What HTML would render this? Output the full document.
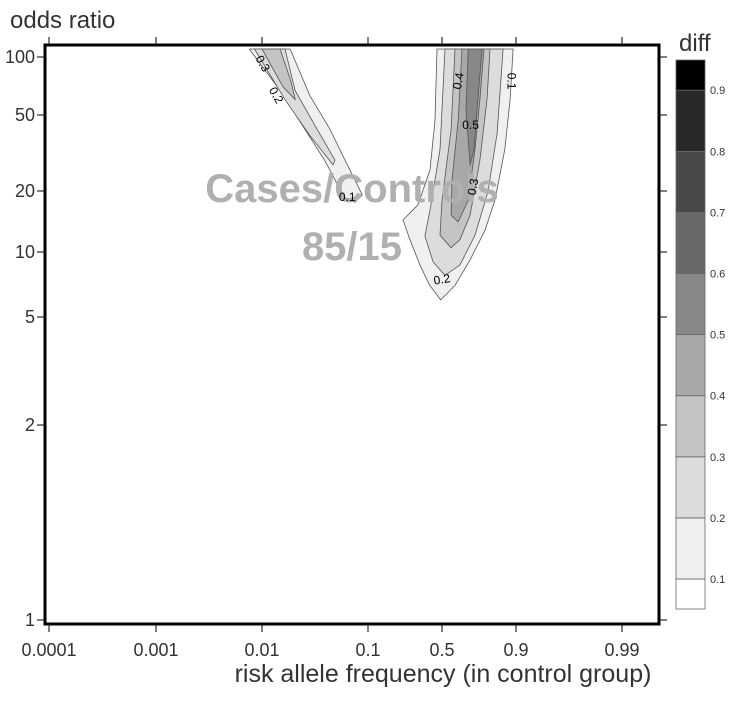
<!DOCTYPE html>
<html><head><meta charset="utf-8"><style>
body{margin:0;background:#fff;font-family:"Liberation Sans",sans-serif}
</style></head><body>
<svg id="chart" width="750" height="700" xmlns="http://www.w3.org/2000/svg" font-family="Liberation Sans, sans-serif">
<g id="contours"></g>
<text x="352" y="202" text-anchor="middle" font-size="40" font-weight="bold" fill="#b0b0b0">Cases/Controls</text>
<text x="352" y="260" text-anchor="middle" font-size="40" font-weight="bold" fill="#b0b0b0">85/15</text>
<g id="clabels" font-size="12" fill="#000"></g>
<rect x="45" y="45" width="614" height="579" fill="none" stroke="#000" stroke-width="3"/>
<g id="axes"></g>
<text x="10" y="28" font-size="24" fill="#333">odds ratio</text>
<text x="443" y="682" text-anchor="middle" font-size="25" fill="#333">risk allele frequency (in control group)</text>
<text x="679" y="51" font-size="24" fill="#333">diff</text>
<g id="cbar"></g>
</svg>
<script>
const xTicks=[0.0001,0.001,0.01,0.1,0.5,0.9,0.99];
const xTickLabels=["0.0001","0.001","0.01","0.1","0.5","0.9","0.99"];
const yTicks=[1,2,5,10,20,50,100];
const yTickLabels=["1","2","5","10","20","50","100"];
const levels=[0.1,0.2,0.3,0.4,0.5,0.6,0.7,0.8,0.9];
const levelColors=["#ffffff","#f0f0f0","#dcdcdc","#c4c4c4","#a8a8a8","#888888","#686868","#484848","#282828","#000000"];
// contour polygons in data space [freq, oddsRatio]
const rightLevel1=[[0.463,110],[0.448,47],[0.412,25.8],[0.329,17.1],[0.239,14.4],[0.279,11.5],[0.342,8.7],[0.41,7],[0.49,6.0],[0.595,7],[0.697,9.2],[0.782,12.8],[0.828,18],[0.866,33],[0.883,60],[0.892,110]];
const rightLevel2=[[0.522,110],[0.485,33],[0.412,16.1],[0.376,12],[0.434,9],[0.522,7.8],[0.63,8.7],[0.727,12.1],[0.797,20],[0.837,40],[0.86,110]];
const rightLevel3=[[0.595,110],[0.567,42],[0.50,18],[0.485,12.1],[0.567,10.5],[0.63,11.5],[0.697,15.2],[0.755,29],[0.792,60],[0.806,110]];
const rightLevel4=[[0.644,110],[0.618,47],[0.574,22.8],[0.567,15.2],[0.618,14.1],[0.685,18],[0.727,33],[0.755,60],[0.777,110]];
const rightLevel5=[[0.685,110],[0.671,53],[0.697,27.4],[0.721,33],[0.744,60],[0.767,110]];
const leftLevel1=[[0.0076,110],[0.015,67],[0.026,42],[0.040,29],[0.053,21.5],[0.062,18.5],[0.0765,17.6],[0.089,19.1],[0.0765,22.8],[0.062,29],[0.045,42],[0.029,63],[0.0187,110]];
const leftLevel2=[[0.0085,110],[0.0167,60],[0.029,39],[0.048,27.4],[0.050,29],[0.0324,44],[0.0209,67],[0.0167,110]];
const leftLevel3=[[0.010,110],[0.016,70],[0.021,60],[0.019,75],[0.015,110]];
const contourLabels=[["0.1",0.885,75,90],["0.4",0.625,75,-80],["0.5",0.70,44,0],["0.3",0.72,21,-80],["0.2",0.50,7.4,-10],["0.3",0.010,92,60],["0.2",0.0135,63,60],["0.1",0.065,18.5,0]];

const xPix=[49,156,262,368,442,516,622], yPix=[620,425,317,252,191,115,57];
const logit=p=>Math.log(p/(1-p));
function interp(v,ts,ps){let i=0;while(i<ts.length-2&&v>ts[i+1])i++;return ps[i]+(v-ts[i])/(ts[i+1]-ts[i])*(ps[i+1]-ps[i]);}
const X=p=>interp(logit(p),xTicks.map(logit),xPix);
const Y=o=>interp(Math.log(o),yTicks.map(Math.log),yPix);
const NS="http://www.w3.org/2000/svg";
function mk(t,a,parent){const e=document.createElementNS(NS,t);for(const k in a)e.setAttribute(k,a[k]);parent.appendChild(e);return e;}
const clip=mk("clipPath",{id:"pc"},document.getElementById("chart"));
mk("rect",{x:45,y:45,width:614,height:579},clip);
const cg=document.getElementById("contours");cg.setAttribute("clip-path","url(#pc)");
const polys=[[leftLevel1,1],[leftLevel2,2],[leftLevel3,3],[rightLevel1,1],[rightLevel2,2],[rightLevel3,3],[rightLevel4,4],[rightLevel5,5]];
polys.forEach(([pts,l],i)=>{
 const p=mk("polygon",{points:pts.map(d=>X(d[0]).toFixed(1)+","+Y(d[1]).toFixed(1)).join(" "),fill:levelColors[l],stroke:"#555","stroke-width":0.8,"stroke-linejoin":"round"},cg);
 
 
});
const lg=document.getElementById("clabels");
contourLabels.forEach(c=>{
 const t=mk("text",{x:X(c[1]),y:Y(c[2]),transform:`rotate(${c[3]} ${X(c[1])} ${Y(c[2])})`,"text-anchor":"middle","dominant-baseline":"middle"},lg);
 t.textContent=c[0];
 
 
});
const ag=document.getElementById("axes");
xTicks.forEach((v,i)=>{
 const x=X(v);
 mk("line",{x1:x,x2:x,y1:624,y2:632,stroke:"#000"},ag);
 mk("line",{x1:x,x2:x,y1:37,y2:45,stroke:"#000"},ag);
 const t=mk("text",{x:x,y:656,"text-anchor":"middle","font-size":18,fill:"#333"},ag);
 t.textContent=xTickLabels[i];
 
 
});
yTicks.forEach((v,i)=>{
 const y=Y(v);
 mk("line",{x1:37,x2:45,y1:y,y2:y,stroke:"#000"},ag);
 mk("line",{x1:659,x2:667,y1:y,y2:y,stroke:"#000"},ag);
 const t=mk("text",{x:35,y:y+6,"text-anchor":"end","font-size":18,fill:"#333"},ag);
 t.textContent=yTickLabels[i];
 
 
});
const cb=document.getElementById("cbar");
const cbTop=60,cbBot=609,cbStep=61.1;
const cy=l=>579-(l-0.1)/0.1*cbStep;
levelColors.forEach((c,i)=>{
 const y0=i===levelColors.length-1?cbTop:cy((i+1)/10);
 const y1=i===0?cbBot:cy(i/10);
 const r=mk("rect",{x:676,y:y0,width:29,height:y1-y0,fill:c,stroke:"#666","stroke-width":0.8},cb);
 
 
});
levels.forEach((l,i)=>{
 const y=cy(l);
 const t=mk("text",{x:710,y:y+4,"font-size":11,fill:"#333"},cb);
 t.textContent=String(l);
 
 
});
</script>
</body></html>
